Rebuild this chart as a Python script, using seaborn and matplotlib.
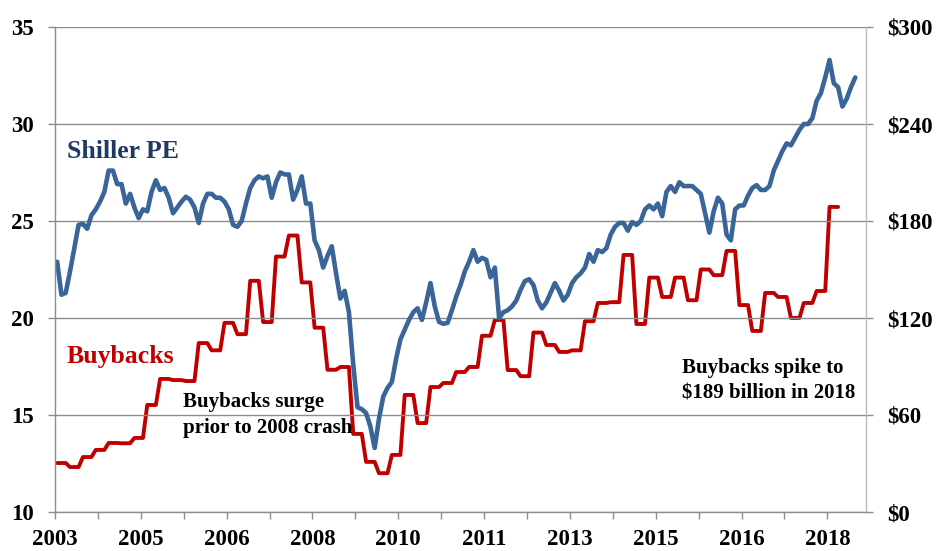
import numpy as np
import pandas as pd
import matplotlib
matplotlib.use("Agg")
import matplotlib.pyplot as plt
import seaborn as sns

# Shiller PE, monthly from Jan 2003
shiller_pe = [
    22.9, 21.2, 21.3, 22.4, 23.6, 24.8, 24.85, 24.6, 25.3, 25.6, 26.0, 26.5,
    27.6, 27.6, 26.9, 26.9, 25.9, 26.4, 25.7, 25.15, 25.6, 25.5, 26.5, 27.1,
    26.6, 26.7, 26.2, 25.4, 25.7, 26.0, 26.25, 26.1, 25.7, 24.9, 25.9, 26.4,
    26.4, 26.2, 26.2, 26.0, 25.6, 24.8, 24.7, 25.0, 25.9, 26.7, 27.1, 27.3,
    27.2, 27.3, 26.2, 27.0, 27.5, 27.4, 27.4, 26.1, 26.6, 27.3, 25.9, 25.9,
    24.0, 23.5, 22.6, 23.2, 23.7, 22.3, 21.0, 21.4, 20.3, 17.6, 15.4, 15.3,
    15.1, 14.4, 13.3, 14.8, 15.95, 16.4, 16.7, 17.9, 18.9, 19.4, 19.9, 20.3,
    20.5, 19.9, 20.8, 21.8, 20.6, 19.8, 19.7, 19.75, 20.4, 21.1, 21.7, 22.4,
    22.9, 23.5, 22.9, 23.1, 23.0, 22.1, 22.6, 20.0, 20.3, 20.4, 20.6, 20.9,
    21.45, 21.9, 22.0, 21.7, 20.9, 20.5, 20.8, 21.3, 21.8, 21.4, 20.9, 21.2,
    21.8, 22.1, 22.3, 22.6, 23.3, 22.9, 23.5, 23.4, 23.6, 24.3, 24.7, 24.9,
    24.9, 24.5, 24.95, 24.8, 25.0, 25.6, 25.8, 25.6, 25.9, 25.25, 26.5, 26.8,
    26.5, 27.0, 26.8, 26.8, 26.8, 26.6, 26.4, 25.4, 24.4, 25.5, 26.2, 25.9,
    24.3, 24.0, 25.6, 25.8, 25.8, 26.3, 26.7, 26.85, 26.6, 26.6, 26.8, 27.6,
    28.1, 28.6, 29.0, 28.9, 29.3, 29.7, 30.0, 30.0, 30.3, 31.2, 31.6, 32.4,
    33.3, 32.1, 31.9, 30.9, 31.3, 31.9, 32.4,
]

# S&P 500 buybacks, $bn per quarter, Q1 2003 .. Q1 2018
buybacks_q = [
    30.3, 27.8, 34.0, 38.4, 42.7, 42.5, 45.8, 66.2, 82.3, 81.6, 81.0, 104.5,
    100.0, 117.0, 110.0, 143.0, 117.5, 158.0, 171.0, 142.0, 114.0, 88.0, 89.7, 48.3,
    31.0, 24.0, 35.3, 72.4, 55.0, 77.3, 79.8, 86.6, 89.7, 109.0, 118.8, 87.8,
    84.0, 111.0, 103.3, 99.0, 100.0, 118.0, 129.3, 129.8, 159.0, 116.3, 145.0, 133.0,
    145.0, 131.0, 150.0, 146.5, 161.5, 128.0, 112.0, 135.5, 133.0, 120.0, 129.3, 136.7,
    188.7,
]

x_labels = ["2003", "2005", "2006", "2008", "2010", "2011", "2013", "2015", "2016", "2018"]
left_ticks = [10, 15, 20, 25, 30, 35]
right_ticks = [0, 60, 120, 180, 240, 300]
right_labels = ["$0", "$60", "$120", "$180", "$240", "$300"]

pe_df = pd.DataFrame({"month": np.arange(len(shiller_pe)), "pe": shiller_pe})
bb_monthly = np.repeat(buybacks_q, 3)
bb_df = pd.DataFrame({"month": np.arange(len(bb_monthly)), "buybacks": bb_monthly})

sns.set_style("white")
plt.rcParams["font.family"] = ["Liberation Serif", "DejaVu Serif"]

BLUE = "#3A6598"
RED = "#C00000"
GRID = "#8C8C8C"
N_MONTHS = 189

fig = plt.figure(figsize=(9.36, 5.51), dpi=100)
ax = fig.add_axes([55 / 936, 39 / 551, 811 / 936, 485 / 551])
ax2 = ax.twinx()

sns.lineplot(data=bb_df, x="month", y="buybacks", ax=ax2, color=RED,
             linewidth=2.8, solid_joinstyle="round")
sns.lineplot(data=pe_df, x="month", y="pe", ax=ax, color=BLUE,
             linewidth=3.3, solid_joinstyle="round")

# blue on top of red
ax.set_zorder(ax2.get_zorder() + 1)
ax.patch.set_visible(False)

ax.set_xlim(-0.5, N_MONTHS - 0.5)
ax.set_ylim(10, 35)
ax2.set_ylim(0, 300)

ax.set_xticks(np.arange(-0.5, N_MONTHS - 0.5, 20))
ax.set_xticklabels(x_labels)
ax.set_xticks(np.arange(9.5, N_MONTHS - 0.5, 20), minor=True)
ax.set_yticks(left_ticks)
ax.set_yticklabels([str(t) for t in left_ticks])
ax2.set_yticks(right_ticks)
ax2.set_yticklabels(right_labels)

ax.set_xlabel("")
ax.set_ylabel("")
ax2.set_ylabel("")

ax.yaxis.grid(True, color=GRID, linewidth=1.0)
ax.xaxis.grid(False)
ax2.grid(False)

for s in ["top", "right"]:
    ax.spines[s].set_visible(False)
for s in ["top", "left", "bottom"]:
    ax2.spines[s].set_visible(False)
ax.spines["left"].set_color(GRID)
ax.spines["bottom"].set_color(GRID)
ax2.spines["right"].set_color("#BBBBBB")
ax.spines["left"].set_linewidth(1.0)
ax.spines["bottom"].set_linewidth(1.0)
ax2.spines["right"].set_linewidth(1.0)

ax.tick_params(axis="y", which="both", direction="out", length=5, width=1,
               color=GRID, pad=10.5, left=True)
ax.tick_params(axis="x", which="both", direction="out", length=5, width=1,
               color=GRID, pad=7, bottom=True)
ax2.tick_params(axis="y", direction="out", length=5, width=1,
                color=GRID, pad=10, right=True)
for lab in ax.get_xticklabels() + ax.get_yticklabels() + ax2.get_yticklabels():
    lab.set_fontsize(16.5)
    lab.set_fontweight("bold")
    lab.set_color("black")

# series labels and notes (positions in data coords of the PE axis)
ax.text(2.3, 28.25, "Shiller PE", color="#1F3864", fontsize=18.5,
        fontweight="bold", va="baseline", ha="left")
ax.text(2.3, 17.68, "Buybacks", color=RED, fontsize=18.5,
        fontweight="bold", va="baseline", ha="left")
ax.text(29.4, 15.41, "Buybacks surge", color="black", fontsize=15,
        fontweight="bold", va="baseline", ha="left")
ax.text(29.4, 14.07, "prior to 2008 crash", color="black", fontsize=15,
        fontweight="bold", va="baseline", ha="left")
ax.text(145.7, 17.16, "Buybacks spike to", color="black", fontsize=15,
        fontweight="bold", va="baseline", ha="left")
ax.text(145.7, 15.87, "$189 billion in 2018", color="black", fontsize=15,
        fontweight="bold", va="baseline", ha="left")

fig.savefig("out.png", dpi=100)
plt.close(fig)
